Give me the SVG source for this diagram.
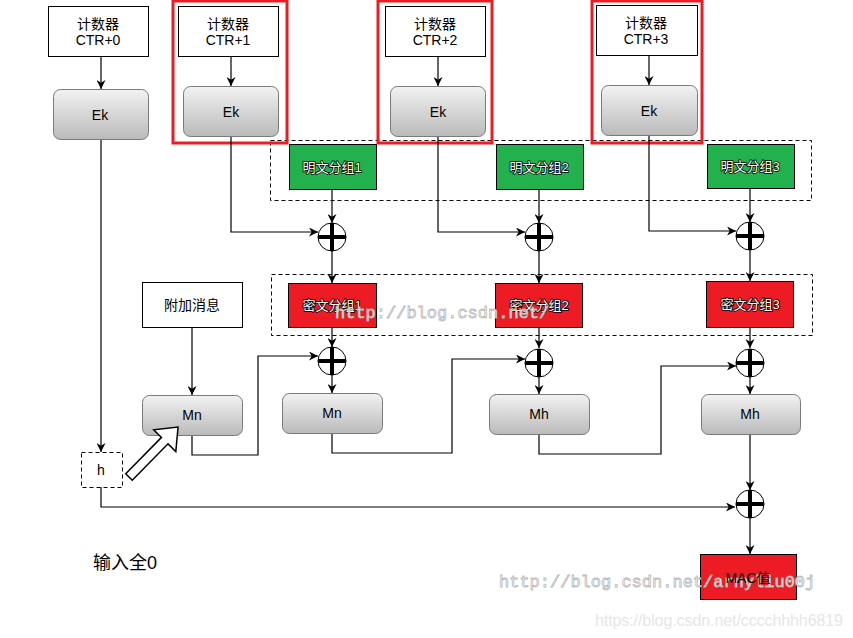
<svg xmlns="http://www.w3.org/2000/svg" width="853" height="638" viewBox="0 0 853 638">
<style>
text{font-family:"Liberation Sans",Arial,"Noto Sans CJK SC",sans-serif;font-size:14px;text-anchor:middle;dominant-baseline:central;fill:#000}
.box{fill:#fff;stroke:#000;stroke-width:1}
.ek{fill:url(#g);stroke:#7a7a7a;stroke-width:1}
.frame{fill:none;stroke:#ec1c24;stroke-width:3}
.dash{fill:none;stroke:#000;stroke-width:1;stroke-dasharray:4 3}
.green{fill:#22b14c;stroke:#000;stroke-width:1}
.red{fill:#ed1c24;stroke:#000;stroke-width:1}
.lbl{fill:#fff;stroke:#000;stroke-width:1.6;paint-order:stroke;font-size:13px}
.c{fill:none;stroke:#000;stroke-width:1.2}
.xc{fill:#fff;stroke:#000;stroke-width:1}
.xl{stroke:#000;stroke-width:4}
.wm{font-family:"Liberation Mono","DejaVu Sans Mono",monospace;font-size:17px;text-anchor:start;dominant-baseline:alphabetic;fill:#fff;stroke:#b8b8b8;stroke-width:0.8}
</style>
<defs>
<linearGradient id="g" x1="0" y1="0" x2="0" y2="1">
<stop offset="0" stop-color="#f2f2f2"/>
<stop offset="1" stop-color="#bababa"/>
</linearGradient>
<marker id="a" viewBox="0 0 10 10" refX="10" refY="5" markerWidth="9" markerHeight="9" markerUnits="userSpaceOnUse" orient="auto">
<path d="M0,0 L10,5 L0,10 L3,5 z" fill="#000"/>
</marker>
<g id="xor">
<circle class="xc" cx="0" cy="0" r="14"/>
<line class="xl" x1="-14" y1="0" x2="14" y2="0"/>
<line class="xl" x1="0" y1="-14" x2="0" y2="14"/>
</g>
</defs>
<rect width="853" height="638" fill="#fff"/>

<g id="groups">
<rect class="dash" x="270.5" y="140.5" width="541" height="60"/>
<rect class="dash" x="271.5" y="274.5" width="541" height="61"/>
</g>

<g id="frames">
<rect class="frame" x="173" y="1" width="114" height="142"/>
<rect class="frame" x="378" y="1" width="114" height="142"/>
<rect class="frame" x="592" y="1" width="110" height="142"/>
</g>

<g id="connectors" class="c">
<path d="M101,56 V89" marker-end="url(#a)"/>
<path d="M231,56 V86" marker-end="url(#a)"/>
<path d="M438,56 V86" marker-end="url(#a)"/>
<path d="M649,55 V85" marker-end="url(#a)"/>
<path d="M101,139 V452" marker-end="url(#a)"/>
<path d="M231,136 V232 H318" marker-end="url(#a)"/>
<path d="M438,136 V232 H525" marker-end="url(#a)"/>
<path d="M649,135 V231 H736" marker-end="url(#a)"/>
<path d="M332,189 V223" marker-end="url(#a)"/>
<path d="M539,189 V223" marker-end="url(#a)"/>
<path d="M750,188 V222" marker-end="url(#a)"/>
<path d="M332,251 V283" marker-end="url(#a)"/>
<path d="M539,251 V283" marker-end="url(#a)"/>
<path d="M750,250 V281" marker-end="url(#a)"/>
<path d="M332,327 V347" marker-end="url(#a)"/>
<path d="M539,327 V348" marker-end="url(#a)"/>
<path d="M750,327 V348" marker-end="url(#a)"/>
<path d="M332,375 V393" marker-end="url(#a)"/>
<path d="M539,377 V394" marker-end="url(#a)"/>
<path d="M750,377 V394" marker-end="url(#a)"/>
<path d="M192,327 V395" marker-end="url(#a)"/>
<path d="M192,435 V455 H258 V356 H318" marker-end="url(#a)"/>
<path d="M332,433 V453 H452 V359 H525" marker-end="url(#a)"/>
<path d="M539,434 V454 H661 V366 H736" marker-end="url(#a)"/>
<path d="M750,434 V490" marker-end="url(#a)"/>
<path d="M101,487 V507 H735" marker-end="url(#a)"/>
<path d="M750,518 V554" marker-end="url(#a)"/>
</g>

<g id="ctr0"><rect class="box" x="48.5" y="6.5" width="100" height="50"/><text x="98" y="24">计数器</text><text x="98" y="40">CTR+0</text></g>
<g id="ctr1"><rect class="box" x="178.5" y="6.5" width="100" height="50"/><text x="228" y="24">计数器</text><text x="228" y="40">CTR+1</text></g>
<g id="ctr2"><rect class="box" x="385.5" y="6.5" width="100" height="50"/><text x="435" y="24">计数器</text><text x="435" y="40">CTR+2</text></g>
<g id="ctr3"><rect class="box" x="596.5" y="5.5" width="101" height="50"/><text x="646" y="23">计数器</text><text x="646" y="39">CTR+3</text></g>

<g id="ek0"><rect class="ek" x="53.5" y="89.5" width="95" height="50" rx="7"/><text x="100" y="115">Ek</text></g>
<g id="ek1"><rect class="ek" x="183.5" y="86.5" width="95" height="50" rx="7"/><text x="231" y="112">Ek</text></g>
<g id="ek2"><rect class="ek" x="390.5" y="86.5" width="95" height="50" rx="7"/><text x="438" y="112">Ek</text></g>
<g id="ek3"><rect class="ek" x="601.5" y="85.5" width="96" height="50" rx="7"/><text x="649" y="111">Ek</text></g>

<g id="p1"><rect class="green" x="289.5" y="144.5" width="87" height="45"/><text class="lbl" x="332" y="167">明文分组1</text></g>
<g id="p2"><rect class="green" x="496.5" y="144.5" width="87" height="45"/><text class="lbl" x="539" y="167">明文分组2</text></g>
<g id="p3"><rect class="green" x="707.5" y="144.5" width="87" height="44"/><text class="lbl" x="750" y="166">明文分组3</text></g>

<g id="x1"><use href="#xor" x="332" y="237"/></g>
<g id="x2"><use href="#xor" x="539" y="237"/></g>
<g id="x3"><use href="#xor" x="750" y="236"/></g>

<g id="c1"><rect class="red" x="288.5" y="283.5" width="88" height="44"/><text class="lbl" x="332" y="305">密文分组1</text></g>
<g id="c2"><rect class="red" x="495.5" y="283.5" width="87" height="44"/><text class="lbl" x="539" y="305">密文分组2</text></g>
<g id="c3"><rect class="red" x="706.5" y="281.5" width="87" height="46"/><text class="lbl" x="750" y="304">密文分组3</text></g>

<g id="x4"><use href="#xor" x="332" y="361"/></g>
<g id="x5"><use href="#xor" x="539" y="363"/></g>
<g id="x6"><use href="#xor" x="750" y="363"/></g>

<g id="extra"><rect class="box" x="142.5" y="282.5" width="100" height="45"/><text x="192" y="305">附加消息</text></g>

<g id="mn1"><rect class="ek" x="142.5" y="395.5" width="100" height="40" rx="7"/><text x="192" y="415">Mn</text></g>
<g id="mn2"><rect class="ek" x="282.5" y="393.5" width="100" height="40" rx="7"/><text x="332" y="413">Mn</text></g>
<g id="mh3"><rect class="ek" x="489.5" y="394.5" width="100" height="40" rx="7"/><text x="539" y="414">Mh</text></g>
<g id="mh4"><rect class="ek" x="701.5" y="394.5" width="99" height="40" rx="7"/><text x="750" y="414">Mh</text></g>

<g id="h"><rect class="dash" x="81.5" y="452.5" width="41" height="35"/><text x="101" y="470">h</text></g>

<g id="bigarrow"><polygon transform="translate(129,477) rotate(-45.5)" points="0,-4.6 51,-4.6 51,-15.5 70,0 51,15.5 51,4.6 0,4.6" fill="#fff" stroke="#000" stroke-width="1.5" stroke-linejoin="miter"/></g>

<g id="x7"><use href="#xor" x="750" y="504"/></g>

<g id="mac"><rect class="red" x="700.5" y="554.5" width="96" height="45"/></g>

<text x="93" y="563" style="font-size:18px;text-anchor:start">输入全0</text>

<g id="watermarks">
<text class="wm" x="335" y="318">http://blog.csdn.net/</text>
<text class="wm" x="499" y="587">http://blog.csdn.net/arnyliu00j</text>
<text x="595" y="620" style="font-size:16px;text-anchor:start;fill:#e6e6e6" textLength="248">https://blog.csdn.net/cccchhhh6819</text>
</g>

<g id="mac-label"><text x="748" y="578">MAC值</text></g>
</svg>
